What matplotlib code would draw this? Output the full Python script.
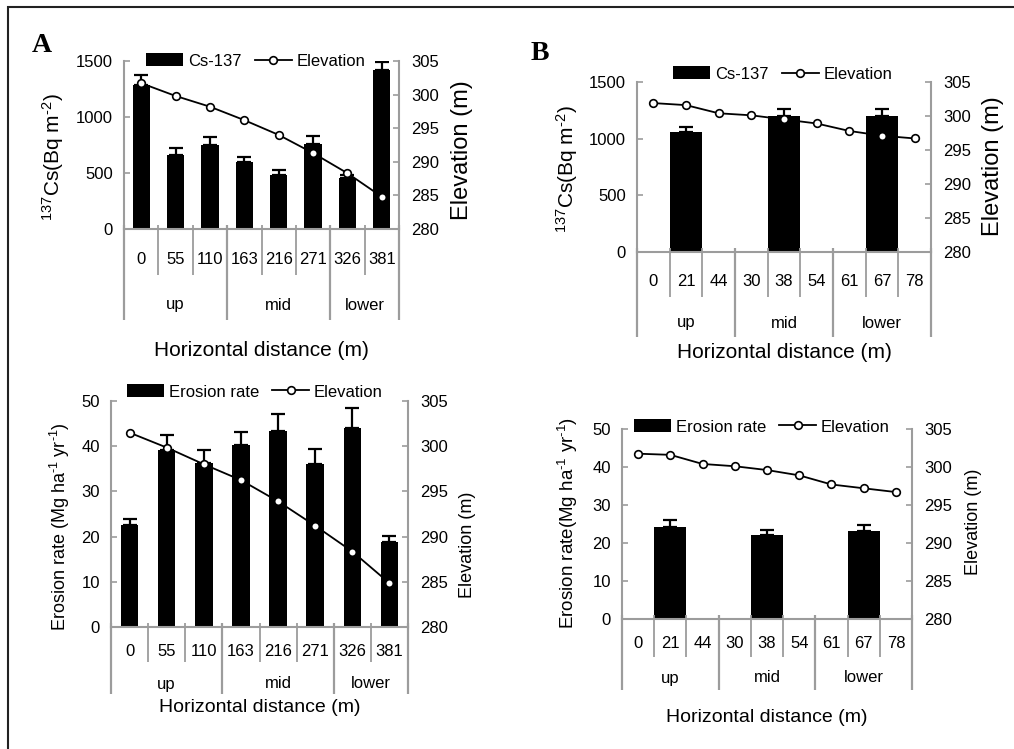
import numpy as np
import matplotlib
matplotlib.use('Agg')
import matplotlib.pyplot as plt
from matplotlib.patches import Rectangle

plt.rcParams['font.family'] = ['Liberation Sans', 'DejaVu Sans']
plt.rcParams['mathtext.default'] = 'regular'

# ---------------- data ----------------
a_dist = ['0', '55', '110', '163', '216', '271', '326', '381']
a_groups = ['up', 'mid', 'lower']
a_group_sizes = [3, 3, 2]
a_cs137 = [1285, 660, 750, 600, 485, 762, 458, 1420]
a_cs137_err = [88, 60, 68, 42, 42, 71, 20, 74]
a_elev = [301.7, 299.8, 298.2, 296.2, 294.0, 291.3, 288.3, 284.8]
a_erosion = [22.6, 39.1, 36.3, 40.2, 43.3, 36.1, 44.0, 18.75]
a_erosion_err = [1.4, 3.3, 2.8, 3.0, 3.9, 3.2, 4.5, 1.45]
a_elev_b = [301.5, 299.85, 298.0, 296.25, 293.9, 291.2, 288.35, 284.85]

b_dist = ['0', '21', '44', '30', '38', '54', '61', '67', '78']
b_groups = ['up', 'mid', 'lower']
b_group_sizes = [3, 3, 3]
b_cs137 = [None, 1055, None, None, 1196, None, None, 1196, None]
b_cs137_err = [None, 52, None, None, 68, None, None, 68, None]
b_elev = [301.9, 301.6, 300.4, 300.1, 299.5, 298.9, 297.8, 297.1, 296.7]
b_erosion = [None, 24.1, None, None, 22.1, None, None, 23.1, None]
b_erosion_err = [None, 1.9, None, None, 1.3, None, None, 1.6, None]
b_elev_b = [301.75, 301.6, 300.4, 300.1, 299.6, 298.9, 297.7, 297.2, 296.7]

elev_ticks = [280, 285, 290, 295, 300, 305]
cs_ticks = [0, 500, 1000, 1500]
er_ticks = [0, 10, 20, 30, 40, 50]

W, H = 1014, 749
GRAY = '#9c9c9c'


def fx(x):
    return x / W


def fy(y):
    return 1 - y / H


fig = plt.figure(figsize=(W / 100, H / 100), dpi=100)


def panel(box, cats, groups, sizes, vals, errs, elev, lticks, bar_w, bar_label,
          rows, leg_xy, xlab_size, ylab, ylab_xy, ylab_size, rlab_xy, rlab_size):
    left, top, right, bottom = box
    hpx = bottom - top
    ax = fig.add_axes([fx(left), fy(bottom), (right - left) / W, hpx / H])
    n = len(cats)
    x = np.arange(n)
    v = np.array([np.nan if q is None else q for q in vals], float)
    e = np.array([np.nan if q is None else q for q in errs], float)
    m = ~np.isnan(v)
    bars = ax.bar(x[m], v[m], width=bar_w, color='black', zorder=2)
    ax.errorbar(x[m], v[m], yerr=[np.zeros(m.sum()), e[m]], fmt='none',
                ecolor='black', elinewidth=1.6, capsize=5, capthick=1.6, zorder=3)
    ax.set_xlim(-0.5, n - 0.5)
    ax.set_ylim(lticks[0], lticks[-1])
    ax.set_yticks(lticks)
    ax.set_xticks([])
    for s in ['top', 'right']:
        ax.spines[s].set_visible(False)
    for s in ['left', 'bottom']:
        ax.spines[s].set_color(GRAY)
        ax.spines[s].set_linewidth(1.5)
    ax.tick_params(axis='y', direction='in', length=4, width=1.2, color=GRAY,
                   labelsize=12, pad=8)

    ax2 = ax.twinx()
    line, = ax2.plot(x, elev, '-o', color='black', mfc='white', mec='black',
                     ms=5.5, mew=1.2, lw=1.3, zorder=4)
    ax2.set_ylim(elev_ticks[0], elev_ticks[-1])
    ax2.set_yticks(elev_ticks)
    for s in ['top', 'left', 'bottom']:
        ax2.spines[s].set_visible(False)
    ax2.spines['right'].set_color(GRAY)
    ax2.spines['right'].set_linewidth(1.5)
    ax2.tick_params(axis='y', direction='in', length=4, width=1.2, color=GRAY,
                    labelsize=12, pad=9)

    # category table below the axis
    cat_end, grp_end, num_y, grp_y, xlab_y = rows

    def ay(ypx):
        return (bottom - ypx) / hpx

    trans = ax.get_xaxis_transform()
    bounds = set(np.cumsum(sizes)[:-1].tolist())
    for i in range(n + 1):
        xb = i - 0.5
        if i == 0 or i == n or i in bounds:
            y0, y1 = ay(bottom - 4), ay(grp_end)
            lw = 1.6
        else:
            y0, y1 = ay(bottom - 4), ay(cat_end)
            lw = 1.3
        ax.plot([xb, xb], [y0, y1], transform=trans, color=GRAY, lw=lw,
                clip_on=False, solid_capstyle='butt')
    for i, c in enumerate(cats):
        ax.text(i, ay(num_y), c, transform=trans, ha='center', va='center',
                fontsize=12)
    start = 0
    for g, sz in zip(groups, sizes):
        ax.text(start + (sz - 1) / 2, ay(grp_y), g, transform=trans,
                ha='center', va='center', fontsize=12)
        start += sz
    ax.text(0.5, ay(xlab_y), 'Horizontal distance (m)', transform=ax.transAxes,
            ha='center', va='center', fontsize=xlab_size)

    ax2.legend(handles=[bars, line], labels=[bar_label, 'Elevation'], ncol=2,
               frameon=False, loc='center', bbox_to_anchor=(fx(leg_xy[0]), fy(leg_xy[1])),
               bbox_transform=fig.transFigure, fontsize=12, handlelength=2.2,
               handletextpad=0.3, columnspacing=0.8, borderpad=0, handleheight=0.8)

    fig.text(fx(ylab_xy[0]), fy(ylab_xy[1]), ylab, rotation=90, ha='center',
             va='center', fontsize=ylab_size)
    fig.text(fx(rlab_xy[0]), fy(rlab_xy[1]), 'Elevation (m)', rotation=90,
             ha='center', va='center', fontsize=rlab_size)
    return ax, ax2


cs_label = '$^{137}$Cs(Bq m$^{\u2010 2}$)'.replace('\u2010 ', '\u2010')

# A top
panel((124, 61, 399, 229), a_dist, a_groups, a_group_sizes, a_cs137, a_cs137_err,
      a_elev, cs_ticks, 0.5, 'Cs-137', (275, 320, 260, 305, 350), (256, 61), 15,
      cs_label, (53, 157), 15, (462, 150), 17)
# A bottom
panel((111, 401, 408, 627), a_dist, a_groups, a_group_sizes, a_erosion, a_erosion_err,
      a_elev_b, er_ticks, 0.47, 'Erosion rate', (662, 694, 652, 684, 708), (255, 392), 14,
      'Erosion rate (Mg ha$^{\u20101}$ yr$^{\u20101}$)', (60, 527), 13, (468, 545), 13)
# B top
panel((637, 82, 931, 252), b_dist, b_groups, b_group_sizes, b_cs137, b_cs137_err,
      b_elev, cs_ticks, 1.0, 'Cs-137', (297, 337, 282, 323, 352), (783, 74), 15,
      cs_label, (567, 169), 15, (993, 166), 17)
# B bottom
panel((622, 429, 912, 619), b_dist, b_groups, b_group_sizes, b_erosion, b_erosion_err,
      b_elev_b, er_ticks, 1.0, 'Erosion rate', (657, 690, 643, 678, 717), (762, 427), 14,
      'Erosion rate(Mg ha$^{\u20101}$ yr$^{\u20101}$)', (568, 523), 13.5, (973, 522), 13)

# panel letters
fig.text(fx(42), fy(46), 'A', fontsize=20, fontweight='bold',
         family=['Liberation Serif', 'DejaVu Serif'], ha='center', va='center')
fig.text(fx(540), fy(53), 'B', fontsize=20, fontweight='bold',
         family=['Liberation Serif', 'DejaVu Serif'], ha='center', va='center')

# outer frame
fig.add_artist(Rectangle((fx(8), -0.05), 1.2, fy(7) + 0.05, transform=fig.transFigure,
                         fill=False, edgecolor='#222222', lw=1.5))

fig.savefig('out.png', dpi=100)
